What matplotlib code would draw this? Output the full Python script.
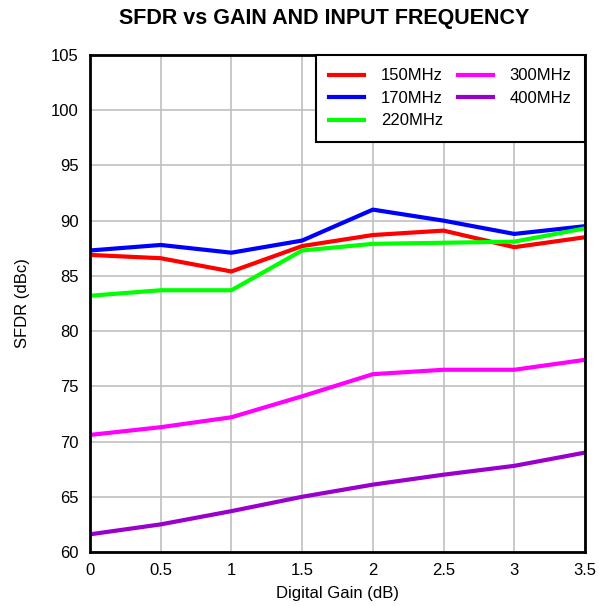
import matplotlib
matplotlib.use("Agg")
import matplotlib.pyplot as plt

plt.rcParams['font.family'] = ['Liberation Sans', 'DejaVu Sans']

gain = [0, 0.5, 1, 1.5, 2, 2.5, 3, 3.5]
labels = ['150MHz', '170MHz', '220MHz', '300MHz', '400MHz']
colors = ['#ff0000', '#0000ff', '#00ff00', '#ff00ff', '#9900cc']
sfdr_150 = [86.9, 86.6, 85.4, 87.7, 88.7, 89.1, 87.6, 88.5]
sfdr_170 = [87.3, 87.8, 87.1, 88.2, 91.0, 90.0, 88.8, 89.5]
sfdr_220 = [83.2, 83.7, 83.7, 87.3, 87.9, 88.0, 88.1, 89.3]
sfdr_300 = [70.6, 71.3, 72.2, 74.1, 76.1, 76.5, 76.5, 77.4]
sfdr_400 = [61.6, 62.5, 63.7, 65.0, 66.1, 67.0, 67.8, 69.0]
series = [sfdr_150, sfdr_170, sfdr_220, sfdr_300, sfdr_400]

fig = plt.figure(figsize=(5.99, 6.06), dpi=100)
ax = fig.add_axes([90/599, 1-552/606, (585-90)/599, (552-55)/606])

for y, lab, c in zip(series, labels, colors):
    ax.plot(gain, y, color=c, lw=3, label=lab, solid_joinstyle='round')

ax.set_xlim(0, 3.5)
ax.set_ylim(60, 105)
ax.set_xticks([0, 0.5, 1, 1.5, 2, 2.5, 3, 3.5])
ax.set_xticklabels(['0', '0.5', '1', '1.5', '2', '2.5', '3', '3.5'])
ax.set_yticks(range(60, 106, 5))
ax.grid(True, color='#c0c0c0', lw=1.2)
ax.set_axisbelow(True)
for s in ax.spines.values():
    s.set_linewidth(2)
    s.set_color('black')
ax.tick_params(axis='both', length=0, labelsize=12, pad=8)
ax.set_xlabel('Digital Gain (dB)', fontsize=12, labelpad=6)
ax.set_ylabel('SFDR (dBc)', fontsize=12, labelpad=15)
fig.text(324/599, 1-18.5/606, 'SFDR vs GAIN AND INPUT FREQUENCY', fontsize=15.5,
         fontweight='bold', ha='center', va='center')

leg = ax.legend(ncol=2, loc='upper right', fontsize=12, frameon=True, fancybox=False,
                edgecolor='black', framealpha=1, handlelength=2.1, handletextpad=1.0,
                columnspacing=0.9, labelspacing=0.45, borderpad=0.8, borderaxespad=0.0)
leg.get_frame().set_linewidth(1.5)

fig.savefig('out.png', dpi=100)
